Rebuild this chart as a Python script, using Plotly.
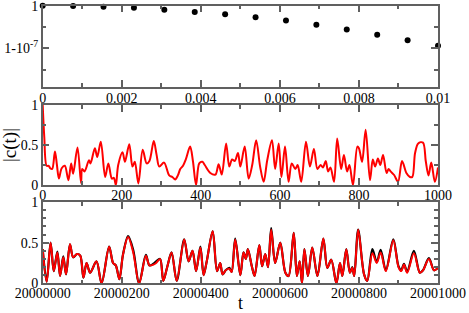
import plotly.graph_objects as go

# ---------------- data ----------------
# Panel 1: survival probability, stored as deviation below 1 in units of 1e-7
t1 = [0.0, 0.000769, 0.001538, 0.002308, 0.003077, 0.003846, 0.004615,
      0.005385, 0.006154, 0.006923, 0.007692, 0.008462, 0.009231, 0.01]
dev1_e7 = [0.0, 0.007, 0.023, 0.047, 0.094, 0.148, 0.20,
           0.27, 0.35, 0.45, 0.56, 0.68, 0.81, 0.94]

# Panel 2: |c(t)| for t in [0, 1000]
t2 = [0, 4, 10, 15, 19, 24, 31, 36, 41, 48, 56, 65, 72, 77, 88, 97, 100, 106,
      117, 121, 132, 138, 147, 158, 166, 175, 180, 185, 191, 202, 208, 219,
      227, 233, 242, 253, 263, 270, 281, 288, 295, 307, 320, 328, 335, 342,
      348, 355, 362, 373, 380, 388, 396, 404, 410, 424, 437, 445, 453, 464,
      472, 479, 486, 494, 500, 511, 521, 530, 540, 550, 559, 568, 580, 588,
      597, 604, 613, 622, 630, 639, 645, 654, 666, 676, 686, 695, 703, 709,
      716, 722, 728, 737, 745, 755, 762, 770, 776, 785, 796, 800, 808, 817,
      828, 835, 841, 848, 854, 861, 870, 875, 880, 889, 899, 909, 920, 929,
      935, 942, 950, 962, 969, 976, 983, 992, 1000]
c2 = [1.0, 0.6, 0.24, 0.24, 0.21, 0.2, 0.42, 0.25, 0.08, 0.21, 0.24, 0.06,
      0.27, 0.14, 0.47, 0.02, 0.2, 0.17, 0.31, 0.27, 0.46, 0.35, 0.54, 0.1,
      0.27, 0.08, 0.09, 0.0, 0.25, 0.41, 0.29, 0.51, 0.23, 0.29, 0.02, 0.44,
      0.27, 0.3, 0.55, 0.38, 0.23, 0.28, 0.12, 0.1, 0.07, 0.12, 0.2, 0.24,
      0.32, 0.48, 0.3, 0.0, 0.27, 0.29, 0.25, 0.15, 0.13, 0.26, 0.13, 0.52,
      0.23, 0.32, 0.3, 0.4, 0.23, 0.48, 0.08, 0.25, 0.56, 0.23, 0.04, 0.31,
      0.56, 0.2, 0.52, 0.1, 0.48, 0.04, 0.27, 0.2, 0.25, 0.04, 0.54, 0.23,
      0.45, 0.2, 0.25, 0.22, 0.3, 0.17, 0.22, 0.04, 0.58, 0.2, 0.375, 0.17,
      0.25, 0.0, 0.48, 0.46, 0.29, 0.69, 0.06, 0.32, 0.23, 0.33, 0.25, 0.375,
      0.15, 0.2, 0.17, 0.125, 0.04, 0.3, 0.15, 0.1, 0.1, 0.4, 0.52, 0.53,
      0.3, 0.12, 0.28, 0.04, 0.22]

# Panel 3: |c(t)| for t in [20000000, 20001000] (offsets from T0)
T0 = 20000000
t3 = [0, 10, 20, 28, 37, 44, 52, 59, 69, 77, 87, 95, 103, 111, 120, 136, 149,
      168, 178, 185, 194, 203, 216, 229, 244, 261, 270, 280, 287, 297, 305,
      315, 326, 339, 358, 369, 379, 388, 399, 407, 415, 430, 441, 449, 455,
      463, 472, 478, 487, 500, 508, 514, 519, 529, 536, 548, 555, 563, 570,
      578, 588, 601, 614, 622, 635, 643, 650, 656, 662, 671, 682, 695, 710,
      720, 730, 743, 752, 758, 768, 777, 783, 788, 798, 813, 821, 834, 845,
      855, 868, 887, 900, 907, 914, 922, 939, 954, 962, 977, 990, 1000]
c3_red = [0.42, 0.02, 0.5, 0.15, 0.38, 0.09, 0.32, 0.11, 0.48, 0.32, 0.36,
          0.34, 0.07, 0.25, 0.13, 0.27, 0.0, 0.45, 0.25, 0.22, 0.05, 0.35,
          0.57, 0.38, 0.0, 0.34, 0.22, 0.23, 0.25, 0.3, 0.03, 0.2, 0.38, 0.03,
          0.54, 0.27, 0.4, 0.15, 0.44, 0.1, 0.27, 0.64, 0.15, 0.25, 0.11,
          0.16, 0.18, 0.14, 0.54, 0.1, 0.38, 0.3, 0.42, 0.21, 0.09, 0.47,
          0.21, 0.36, 0.2, 0.66, 0.25, 0.5, 0.13, 0.09, 0.62, 0.09, 0.27,
          0.0, 0.42, 0.09, 0.44, 0.09, 0.55, 0.19, 0.29, 0.0, 0.25, 0.09,
          0.42, 0.13, 0.19, 0.09, 0.66, 0.11, 0.03, 0.37, 0.25, 0.38, 0.15,
          0.53, 0.2, 0.15, 0.23, 0.13, 0.37, 0.13, 0.16, 0.3, 0.16, 0.19]
c3_black = [0.42, 0.02, 0.5, 0.15, 0.39, 0.09, 0.33, 0.11, 0.48, 0.32, 0.36,
            0.34, 0.07, 0.25, 0.13, 0.27, 0.0, 0.45, 0.25, 0.22, 0.05, 0.35,
            0.58, 0.41, 0.0, 0.35, 0.22, 0.24, 0.27, 0.3, 0.03, 0.2, 0.38,
            0.03, 0.54, 0.27, 0.4, 0.15, 0.45, 0.1, 0.27, 0.64, 0.15, 0.25,
            0.11, 0.16, 0.19, 0.14, 0.55, 0.1, 0.38, 0.3, 0.42, 0.21, 0.09,
            0.47, 0.21, 0.36, 0.2, 0.68, 0.25, 0.5, 0.13, 0.09, 0.62, 0.09,
            0.27, 0.0, 0.42, 0.09, 0.44, 0.09, 0.55, 0.19, 0.29, 0.0, 0.25,
            0.09, 0.42, 0.13, 0.2, 0.09, 0.66, 0.11, 0.03, 0.42, 0.26, 0.41,
            0.16, 0.54, 0.21, 0.16, 0.24, 0.14, 0.4, 0.13, 0.16, 0.31, 0.16,
            0.19]

x1_ticks = [0, 0.002, 0.004, 0.006, 0.008, 0.01]
x3_ticks = [20000000, 20000200, 20000400, 20000600, 20000800, 20001000]
y1_tickvals = [0, -1]
y1_ticktext = ["1", "1-10<sup>-7</sup>"]

# ---------------- figure ----------------
FONT = "Liberation Serif"
AX = "#606060"

fig = go.Figure()
fig.add_trace(go.Scatter(x=t1, y=[-d for d in dev1_e7], mode="markers",
                         marker=dict(color="black", size=6),
                         cliponaxis=False, xaxis="x", yaxis="y"))
fig.add_trace(go.Scatter(x=t2, y=c2, mode="lines",
                         line=dict(color="red", width=2, shape="spline", smoothing=0.9),
                         xaxis="x2", yaxis="y2"))
fig.add_trace(go.Scatter(x=[T0 + v for v in t3], y=c3_black, mode="lines",
                         line=dict(color="black", width=2.2, shape="spline", smoothing=0.9),
                         xaxis="x3", yaxis="y3"))
fig.add_trace(go.Scatter(x=[T0 + v for v in t3], y=c3_red, mode="lines",
                         line=dict(color="red", width=2, shape="spline", smoothing=0.9),
                         xaxis="x3", yaxis="y3"))

W, H = 469, 313
xdom = [42.7 / W, 438 / W]

def ydom(top, bot):
    return [1 - bot / H, 1 - top / H]

common = dict(showline=True, linecolor=AX, linewidth=1.5, mirror="ticks",
              ticks="inside", ticklen=7, tickwidth=1.5, tickcolor=AX,
              showgrid=False, zeroline=False, automargin=False,
              ticklabeloverflow="allow",
              tickfont=dict(family=FONT, size=14, color="black"))

def minor(**kw):
    d = dict(ticklen=4, tickcolor=AX, tickwidth=1.5, ticks="inside")
    d.update(kw)
    return d

fig.update_layout(
    template="none",
    width=W, height=H, margin=dict(l=0, r=0, t=0, b=0, pad=0),
    paper_bgcolor="white", plot_bgcolor="white", showlegend=False,
    font=dict(family=FONT, size=14, color="black"),
    xaxis=dict(domain=xdom, anchor="y", range=[0, 0.01], tickvals=x1_ticks,
               ticklabelstandoff=-3, minor=minor(dtick=0.001), **common),
    yaxis=dict(domain=ydom(5.7, 87), anchor="x", range=[-1.91, 0.0005],
               tickvals=y1_tickvals, ticktext=y1_ticktext,
               minor=minor(tickvals=[-0.5, -1.5]), **common),
    xaxis2=dict(domain=xdom, anchor="y2", range=[0, 1000], dtick=200, tick0=0,
                ticklabelstandoff=-4, minor=minor(dtick=100), **common),
    yaxis2=dict(domain=ydom(105, 185), anchor="x2", range=[0, 1], dtick=0.5,
                tick0=0, minor=minor(dtick=0.25), **common),
    xaxis3=dict(domain=xdom, anchor="y3", range=[T0, T0 + 1000],
                tickvals=x3_ticks, tickformat="d", ticklabelstandoff=-4,
                minor=minor(dtick=100, tick0=T0), **common),
    yaxis3=dict(domain=ydom(202, 283.3), anchor="x3", range=[0, 1], dtick=0.5,
                tick0=0, minor=minor(dtick=0.1), **common),
    annotations=[
        dict(text="|c(t)|", xref="paper", yref="paper", x=10 / W, y=1 - 145 / H,
             textangle=-90, showarrow=False, xanchor="center", yanchor="middle",
             font=dict(family=FONT, size=19, color="black")),
        dict(text="t", xref="paper", yref="paper", x=240 / W, y=1 - 303 / H,
             showarrow=False, xanchor="center", yanchor="middle",
             font=dict(family=FONT, size=18, color="black")),
    ],
)

fig.write_html("out.html",
               config={"displayModeBar": False},
               post_script="document.body.style.margin='0px';"
                           "document.body.style.overflow='hidden';")
